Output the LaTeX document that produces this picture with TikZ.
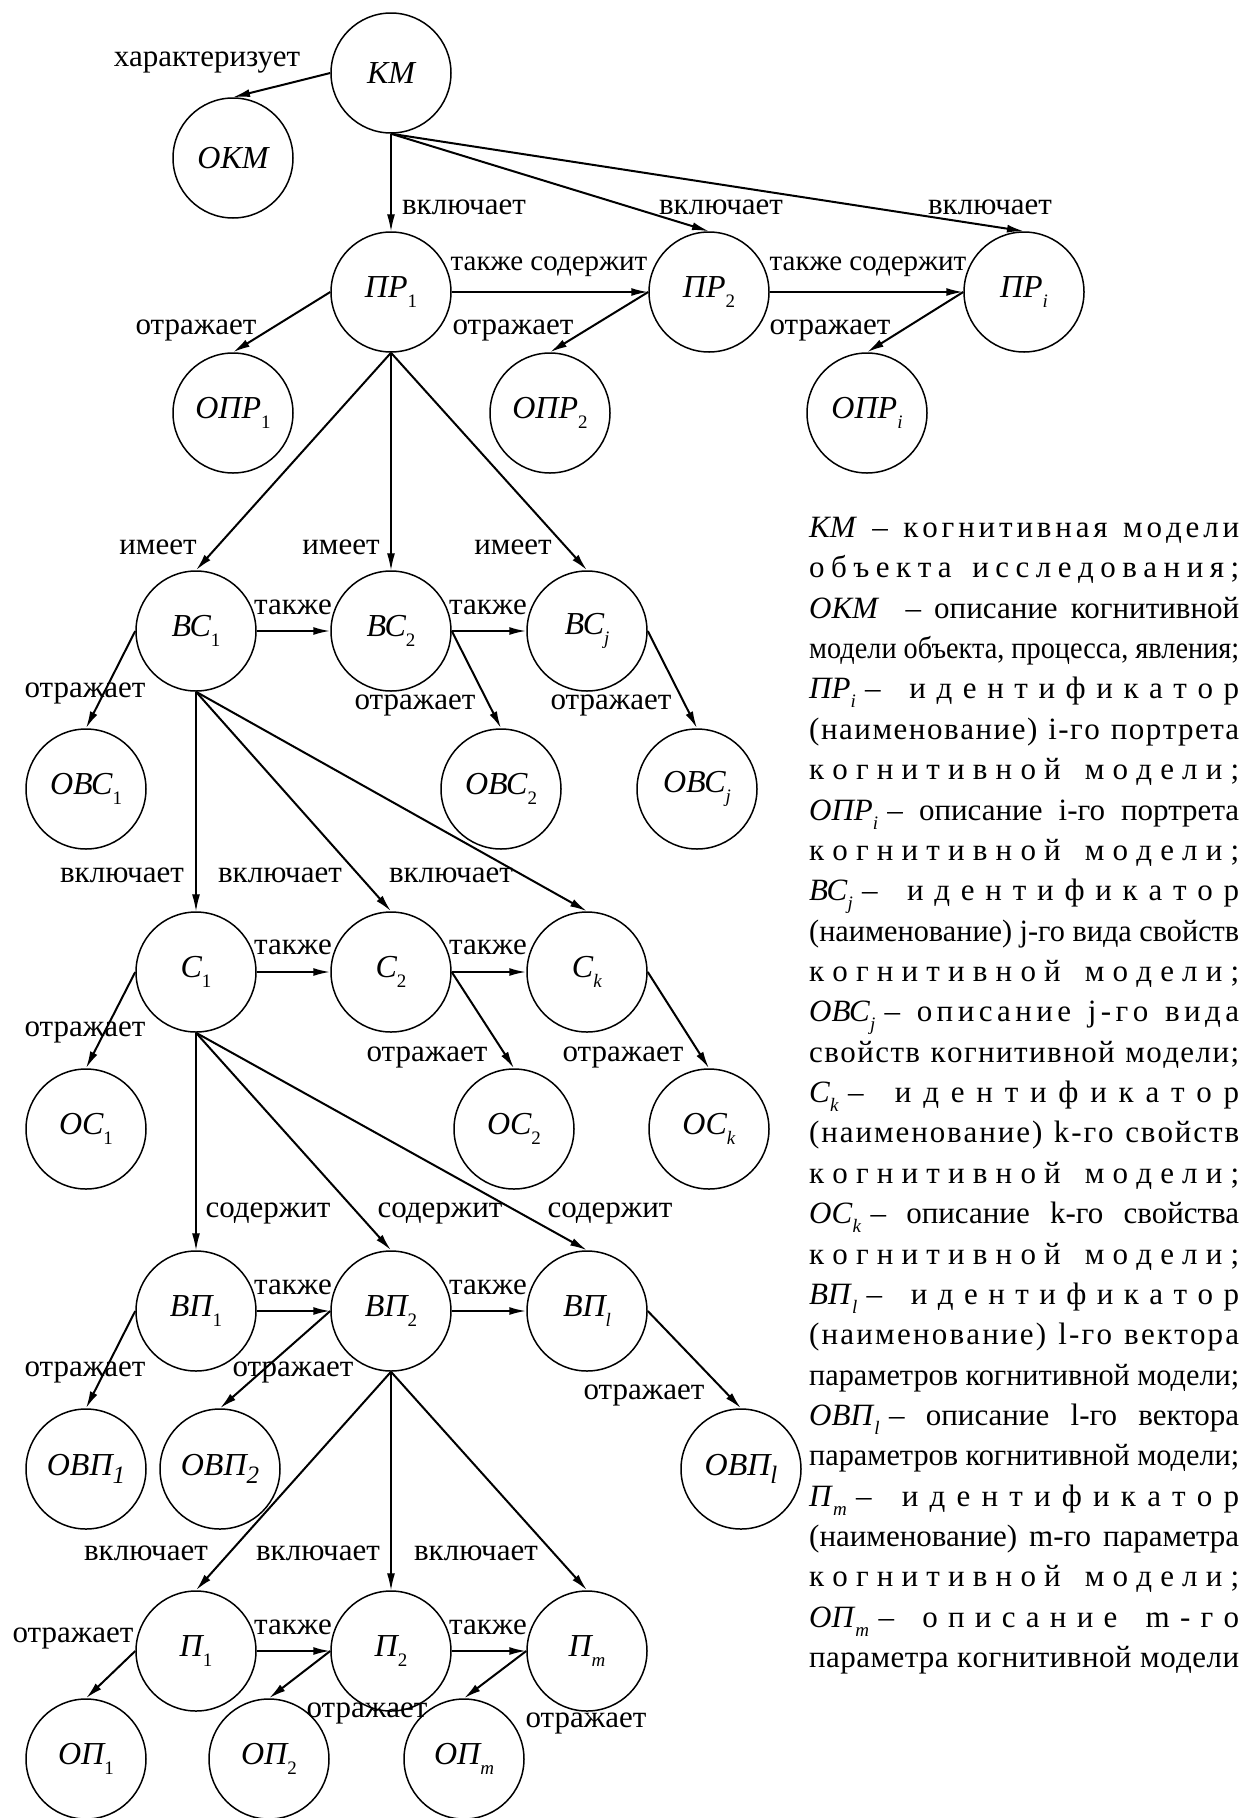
\documentclass[tikz,border=0pt]{standalone}
\usepackage{fontspec}
\setmainfont{Liberation Serif}
\usetikzlibrary{arrows.meta}

\newlength\lgw
\setlength\lgw{430pt}
\newcommand\ix[1]{\raisebox{-.3em}{\fontsize{19}{19}\selectfont\upshape #1}}
\newcommand\ixb[1]{\raisebox{-.25em}{\fontsize{25}{25}\selectfont\itshape #1}}
\newcommand\spw[1]{\spwB#1\relax}
\def\spwB#1{#1\spwA}
\def\spwA#1{\ifx#1\relax\else\hfil#1\expandafter\spwA\fi}
\newcommand\wg{\ \hfil\hfil}
\newcommand\dsh{\hspace{.3em}–}
\newcommand\spline[1]{\makebox[\lgw][s]{#1}}
\newcommand\fitline[1]{\sbox0{#1}\ifdim\wd0>\lgw\resizebox{\lgw}{\height}{#1}\else\makebox[\lgw][s]{#1}\fi}

\begin{document}
\begin{tikzpicture}[x=1pt, y=-1pt,
    cn/.style={circle, draw, line width=1.5pt, minimum size=120pt, inner sep=0pt,
      font=\fontsize{32}{32}\selectfont\itshape},
    lbl/.style={inner sep=0pt, font=\fontsize{31}{31}\selectfont},
    lbls/.style={lbl, font=\fontsize{29}{29}\selectfont},
    lgl/.style={anchor=base west, inner sep=0pt, font=\fontsize{31}{31}\selectfont},
    arr/.style={-{Latex[length=17pt,width=8pt]}, line width=2pt},
    arrv/.style={arr, line width=1.3pt},
  ]
\useasboundingbox (0,0) rectangle (1250,1818);

\node[cn] (KM) at (391,73) {КМ};
\node[cn] (OKM) at (233,158) {ОКМ};
\node[cn] (PR1) at (391,292) {ПР\ix{1}};
\node[cn] (PR2) at (709,292) {ПР\ix{2}};
\node[cn] (PRi) at (1024,292) {ПР\ix{\textit{i}}};
\node[cn] (OPR1) at (233,413) {ОПР\ix{1}};
\node[cn] (OPR2) at (550,413) {ОПР\ix{2}};
\node[cn] (OPRi) at (867,413) {ОПР\ix{\textit{i}}};
\node[cn] (BC1) at (196,631) {ВС\ix{1}};
\node[cn] (BC2) at (391,631) {ВС\ix{2}};
\node[cn] (BCj) at (587,631) {ВС\ix{\textit{j}}};
\node[cn] (OBC1) at (86,789) {ОВС\ix{1}};
\node[cn] (OBC2) at (501,789) {ОВС\ix{2}};
\node[cn] (OBCj) at (697,789) {ОВС\ix{\textit{j}}};
\node[cn] (C1) at (196,972) {С\ix{1}};
\node[cn] (C2) at (391,972) {С\ix{2}};
\node[cn] (Ck) at (587,972) {С\ix{\textit{k}}};
\node[cn] (OC1) at (86,1129) {ОС\ix{1}};
\node[cn] (OC2) at (514,1129) {ОС\ix{2}};
\node[cn] (OCk) at (709,1129) {ОС\ix{\textit{k}}};
\node[cn] (VP1) at (196,1311) {ВП\ix{1}};
\node[cn] (VP2) at (391,1311) {ВП\ix{2}};
\node[cn] (VPl) at (587,1311) {ВП\ix{\textit{l}}};
\node[cn] (OVP1) at (86,1469) {ОВП\ixb{1}};
\node[cn] (OVP2) at (220,1469) {ОВП\ixb{2}};
\node[cn] (OVPl) at (741,1469) {ОВП\ixb{l}};
\node[cn] (P1) at (196,1651) {П\ix{1}};
\node[cn] (P2) at (391,1651) {П\ix{2}};
\node[cn] (Pm) at (587,1651) {П\ix{\textit{m}}};
\node[cn] (OP1) at (86,1759) {ОП\ix{1}};
\node[cn] (OP2) at (269,1759) {ОП\ix{2}};
\node[cn] (OPm) at (464,1759) {ОП\ix{\textit{m}}};

\node[lbl] (tKM) at (207,63) {характеризует};
\node[lbl] (iPR1) at (464,207) {включает};
\node[lbl] (iPR2) at (721,207) {включает};
\node[lbl] (iPRi) at (990,207) {включает};
\node[lbls] (sPR2) at (549,267) {также содержит};
\node[lbls] (sPRi) at (868,267) {также содержит};
\node[lbl] (rPR1) at (196,330) {отражает};
\node[lbl] (rPR2) at (513,330) {отражает};
\node[lbl] (rPRi) at (830,330) {отражает};
\node[lbl] (hBC1) at (158,547) {имеет};
\node[lbl] (hBC2) at (341,547) {имеет};
\node[lbl] (hBCj) at (513,547) {имеет};
\node[lbl] (aBC2) at (293,607) {также};
\node[lbl] (aBCj) at (488,607) {также};
\node[lbl] (rBC1) at (85,693) {отражает};
\node[lbl] (rBC2) at (415,705) {отражает};
\node[lbl] (rBCj) at (611,705) {отражает};
\node[lbl] (iC1) at (122,875) {включает};
\node[lbl] (iC2) at (280,875) {включает};
\node[lbl] (iCk) at (451,875) {включает};
\node[lbl] (aC2) at (293,947) {также};
\node[lbl] (aCk) at (488,947) {также};
\node[lbl] (rC1) at (85,1032) {отражает};
\node[lbl] (rC2) at (427,1057) {отражает};
\node[lbl] (rCk) at (623,1057) {отражает};
\node[lbl] (cVP1) at (268,1213) {содержит};
\node[lbl] (cVP2) at (440,1213) {содержит};
\node[lbl] (cVPl) at (610,1213) {содержит};
\node[lbl] (aVP2) at (293,1287) {также};
\node[lbl] (aVPl) at (488,1287) {также};
\node[lbl] (rVP1) at (85,1372) {отражает};
\node[lbl] (rVP2) at (293,1372) {отражает};
\node[lbl] (rVPl) at (644,1395) {отражает};
\node[lbl] (iP1) at (146,1553) {включает};
\node[lbl] (iP2) at (318,1553) {включает};
\node[lbl] (iPm) at (476,1553) {включает};
\node[lbl] (aP2) at (293,1627) {также};
\node[lbl] (aPm) at (488,1627) {также};
\node[lbl] (rP1) at (73,1638) {отражает};
\node[lbl] (rP2) at (367,1713) {отражает};
\node[lbl] (rPm) at (586,1723) {отражает};

\draw[arr] (KM.west) -- (OKM.north);
\draw[arrv] (KM.south) -- (PR1.north);
\draw[arr] (KM.south) -- (PR2.north);
\draw[arr] (KM.south) -- (PRi.north);
\draw[arr] (PR1.east) -- (PR2.west);
\draw[arr] (PR2.east) -- (PRi.west);
\draw[arr] (PR1.west) -- (OPR1.north);
\draw[arr] (PR2.west) -- (OPR2.north);
\draw[arr] (PRi.west) -- (OPRi.north);
\draw[arr] (PR1.south) -- (BC1.north);
\draw[arrv] (PR1.south) -- (BC2.north);
\draw[arr] (PR1.south) -- (BCj.north);
\draw[arr] (BC1.east) -- (BC2.west);
\draw[arr] (BC2.east) -- (BCj.west);
\draw[arr] (BC1.west) -- (OBC1.north);
\draw[arr] (BC2.east) -- (OBC2.north);
\draw[arr] (BCj.east) -- (OBCj.north);
\draw[arrv] (BC1.south) -- (C1.north);
\draw[arr] (BC1.south) -- (C2.north);
\draw[arr] (BC1.south) -- (Ck.north);
\draw[arr] (C1.east) -- (C2.west);
\draw[arr] (C2.east) -- (Ck.west);
\draw[arr] (C1.west) -- (OC1.north);
\draw[arr] (C2.east) -- (OC2.north);
\draw[arr] (Ck.east) -- (OCk.north);
\draw[arrv] (C1.south) -- (VP1.north);
\draw[arr] (C1.south) -- (VP2.north);
\draw[arr] (C1.south) -- (VPl.north);
\draw[arr] (VP1.east) -- (VP2.west);
\draw[arr] (VP2.east) -- (VPl.west);
\draw[arr] (VP1.west) -- (OVP1.north);
\draw[arr] (VP2.west) -- (OVP2.north);
\draw[arr] (VPl.east) -- (OVPl.north);
\draw[arr] (VP2.south) -- (P1.north);
\draw[arrv] (VP2.south) -- (P2.north);
\draw[arr] (VP2.south) -- (Pm.north);
\draw[arr] (P1.east) -- (P2.west);
\draw[arr] (P2.east) -- (Pm.west);
\draw[arr] (P1.west) -- (OP1.north);
\draw[arr] (P2.west) -- (OP2.north);
\draw[arr] (Pm.west) -- (OPm.north);

\node[lgl] (lg0) at (809,537) {\spline{\textit{КМ}\wg–\wg\spw{когнитивная}\wg\spw{модели}}};
\node[lgl] (lg1) at (809,577) {\spline{\spw{объекта}\wg\spw{исследования;}}};
\node[lgl] (lg2) at (809,618) {\fitline{\textit{ОКМ}\ \ – описание когнитивной}};
\node[lgl] (lg3) at (809,658) {\fitline{модели объекта, процесса, явления;}};
\node[lgl] (lg4) at (809,698) {\spline{\textit{ПР}\ix{\textit{i}}\dsh\wg\spw{идентификатор}}};
\node[lgl] (lg5) at (809,739) {\spline{\spw{(наименование)}\wg\spw{i-го}\wg\spw{портрета}}};
\node[lgl] (lg6) at (809,779) {\spline{\spw{когнитивной}\wg\spw{модели;}}};
\node[lgl] (lg7) at (809,820) {\fitline{\textit{ОПР}\ix{\textit{i}}\dsh{} описание i-го портрета}};
\node[lgl] (lg8) at (809,860) {\spline{\spw{когнитивной}\wg\spw{модели;}}};
\node[lgl] (lg9) at (809,900) {\spline{\textit{ВС}\ix{\textit{j}}\dsh\wg\spw{идентификатор}}};
\node[lgl] (lg10) at (809,941) {\fitline{(наименование) j-го вида свойств}};
\node[lgl] (lg11) at (809,981) {\spline{\spw{когнитивной}\wg\spw{модели;}}};
\node[lgl] (lg12) at (809,1021) {\spline{\textit{ОВС}\ix{\textit{j}}\dsh\wg\spw{описание}\wg\spw{j-го}\wg\spw{вида}}};
\node[lgl] (lg13) at (809,1062) {\spline{\spw{свойств}\wg\spw{когнитивной}\wg\spw{модели;}}};
\node[lgl] (lg14) at (809,1102) {\spline{\textit{С}\ix{\textit{k}}\dsh\wg\spw{идентификатор}}};
\node[lgl] (lg15) at (809,1142) {\spline{\spw{(наименование)}\wg\spw{k-го}\wg\spw{свойств}}};
\node[lgl] (lg16) at (809,1183) {\spline{\spw{когнитивной}\wg\spw{модели;}}};
\node[lgl] (lg17) at (809,1223) {\fitline{\textit{ОС}\ix{\textit{k}}\dsh{} описание k-го свойства}};
\node[lgl] (lg18) at (809,1264) {\spline{\spw{когнитивной}\wg\spw{модели;}}};
\node[lgl] (lg19) at (809,1304) {\spline{\textit{ВП}\ix{\textit{l}}\dsh\wg\spw{идентификатор}}};
\node[lgl] (lg20) at (809,1344) {\spline{\spw{(наименование)}\wg\spw{l-го}\wg\spw{вектора}}};
\node[lgl] (lg21) at (809,1385) {\fitline{параметров когнитивной модели;}};
\node[lgl] (lg22) at (809,1425) {\fitline{\textit{ОВП}\ix{\textit{l}}\dsh{} описание l-го вектора}};
\node[lgl] (lg23) at (809,1465) {\fitline{параметров когнитивной модели;}};
\node[lgl] (lg24) at (809,1506) {\spline{\textit{П}\ix{\textit{m}}\dsh\wg\spw{идентификатор}}};
\node[lgl] (lg25) at (809,1546) {\fitline{(наименование) m-го параметра}};
\node[lgl] (lg26) at (809,1586) {\spline{\spw{когнитивной}\wg\spw{модели;}}};
\node[lgl] (lg27) at (809,1627) {\spline{\textit{ОП}\ix{\textit{m}}\dsh\wg\spw{описание}\wg\spw{m-го}}};
\node[lgl] (lg28) at (809,1667) {\spline{\spw{параметра}\wg\spw{когнитивной}\wg\spw{модели}}};
\end{tikzpicture}
\end{document}
